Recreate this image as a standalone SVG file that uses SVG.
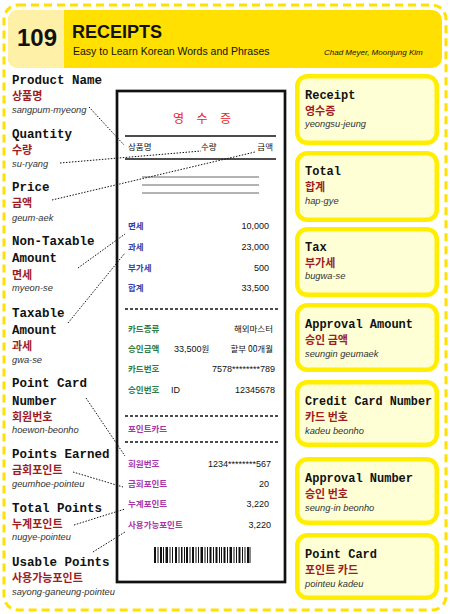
<svg xmlns="http://www.w3.org/2000/svg" width="450" height="614" viewBox="0 0 450 614">
<style>
.en{font-family:"Liberation Mono","Courier New",monospace;font-weight:bold;font-size:12.5px;fill:#111}
.enr{font-family:"Liberation Mono","Courier New",monospace;font-weight:bold;font-size:12px;fill:#111}
.ko{font-family:"Noto Sans CJK KR",sans-serif;font-weight:bold;font-size:11px;fill:#9E1C24}
.ro{font-family:"Liberation Sans",Arial,sans-serif;font-style:italic;font-size:9.3px;fill:#333}
.rk{font-family:"Noto Sans CJK KR",sans-serif;font-size:8.5px}
.rn{font-family:"Liberation Sans",Arial,sans-serif;font-size:9px;fill:#111}
.blue{fill:#3B3BA3;font-weight:bold}.green{fill:#2E7D46;font-weight:bold}.purple{fill:#A934A9;font-weight:bold}.blk{fill:#111}
.box{fill:#FFFFD6;stroke:#FFEE00;stroke-width:4.5}
.dash{stroke:#111;stroke-width:1.5;stroke-dasharray:3 2;fill:none}
.con line{stroke:#111;stroke-width:1;stroke-dasharray:1.5 1.5}
</style>
<rect x="0" y="0" width="450" height="614" fill="#fff"/>
<rect x="4" y="5" width="442" height="605" rx="14" fill="none" stroke="#FFE000" stroke-width="3" stroke-dasharray="8 5"/>
<g id="header">
<rect x="8" y="10" width="434" height="58" rx="10" fill="#FFE000"/>
<path d="M18 10 H64 V68 H18 A10 10 0 0 1 8 58 V20 A10 10 0 0 1 18 10 Z" fill="#FFF0A8"/>
<text x="37" y="46" text-anchor="middle" font-family="Liberation Sans,Arial,sans-serif" font-weight="bold" font-size="24" fill="#111">109</text>
<text x="72" y="38" font-family="Liberation Sans,Arial,sans-serif" font-weight="bold" font-size="18" fill="#111">RECEIPTS</text>
<text x="73" y="55" font-family="Liberation Sans,Arial,sans-serif" font-size="10.5" fill="#111">Easy to Learn Korean Words and Phrases</text>
<text x="324" y="55" font-family="Liberation Sans,Arial,sans-serif" font-style="italic" font-size="8" fill="#111">Chad Meyer,  Moonjung Kim</text>
</g>
<g id="left-labels">
<g id="lbl-product"><text class="en" x="12" y="84">Product Name</text><text class="ko" x="12" y="100">상품명</text><text class="ro" x="12" y="113">sangpum-myeong</text></g>
<g id="lbl-quantity"><text class="en" x="12" y="138">Quantity</text><text class="ko" x="12" y="154">수량</text><text class="ro" x="12" y="166.5">su-ryang</text></g>
<g id="lbl-price"><text class="en" x="12" y="191">Price</text><text class="ko" x="12" y="207">금액</text><text class="ro" x="12" y="221">geum-aek</text></g>
<g id="lbl-nontax"><text class="en" x="12" y="245">Non-Taxable</text><text class="en" x="12" y="262">Amount</text><text class="ko" x="12" y="279">면세</text><text class="ro" x="12" y="291">myeon-se</text></g>
<g id="lbl-tax"><text class="en" x="12" y="317">Taxable</text><text class="en" x="12" y="334">Amount</text><text class="ko" x="12" y="350">과세</text><text class="ro" x="12" y="363">gwa-se</text></g>
<g id="lbl-pointcard"><text class="en" x="12" y="387">Point Card</text><text class="en" x="12" y="405">Number</text><text class="ko" x="12" y="421">회원번호</text><text class="ro" x="12" y="433">hoewon-beonho</text></g>
<g id="lbl-earned"><text class="en" x="12" y="458">Points Earned</text><text class="ko" x="12" y="474">금회포인트</text><text class="ro" x="12" y="487">geumhoe-pointeu</text></g>
<g id="lbl-total"><text class="en" x="12" y="512">Total Points</text><text class="ko" x="12" y="528">누계포인트</text><text class="ro" x="12" y="540">nugye-pointeu</text></g>
<g id="lbl-usable"><text class="en" x="12" y="566">Usable Points</text><text class="ko" x="12" y="582">사용가능포인트</text><text class="ro" x="12" y="595">sayong-ganeung-pointeu</text></g>
</g>
<g id="receipt">
<rect x="117" y="91" width="168" height="491" fill="#fff" stroke="#111" stroke-width="2.7"/>
<text x="173" y="123" textLength="58" font-family="Noto Sans CJK KR,sans-serif" font-size="12" fill="#E8242A">영 수 증</text>
<line x1="125" y1="136" x2="276" y2="136" stroke="#111" stroke-width="1.4"/>
<text class="rk blk" x="128" y="150">상품명</text>
<text class="rk blk" x="201" y="150">수량</text>
<text class="rk blk" x="273" y="150" text-anchor="end">금액</text>
<line x1="125" y1="159" x2="276" y2="159" stroke="#111" stroke-width="1.4"/>
<g stroke="#666" stroke-width="1"><line x1="142" y1="177" x2="259" y2="177"/><line x1="142" y1="185" x2="259" y2="185"/><line x1="142" y1="193" x2="259" y2="193"/></g>
<text class="rk blue" x="128" y="229">면세</text><text class="rn" x="269" y="229" text-anchor="end">10,000</text>
<text class="rk blue" x="128" y="250">과세</text><text class="rn" x="269" y="250" text-anchor="end">23,000</text>
<text class="rk blue" x="128" y="271">부가세</text><text class="rn" x="269" y="271" text-anchor="end">500</text>
<text class="rk blue" x="128" y="291">합계</text><text class="rn" x="269" y="291" text-anchor="end">33,500</text>
<line class="dash" x1="125" y1="309" x2="278" y2="309"/>
<text class="rk green" x="128" y="332">카드종류</text><text class="rk blk" x="273" y="332" text-anchor="end">해외마스터</text>
<text class="rk green" x="128" y="352">승인금액</text><text class="rn" x="174" y="352">33,500<tspan class="rk">원</tspan></text><text class="rk blk" x="273" y="352" text-anchor="end">할부 00개월</text>
<text class="rk green" x="128" y="372">카드번호</text><text class="rn" x="275" y="372" text-anchor="end">7578********789</text>
<text class="rk green" x="128" y="393">승인번호</text><text class="rn" x="171" y="393">ID</text><text class="rn" x="275" y="393" text-anchor="end">12345678</text>
<line class="dash" x1="125" y1="416" x2="278" y2="416"/>
<text class="rk purple" x="128" y="432">포인트카드</text>
<line class="dash" x1="125" y1="442" x2="278" y2="442"/>
<text class="rk purple" x="128" y="467">회원번호</text><text class="rn" x="271" y="467" text-anchor="end">1234********567</text>
<text class="rk purple" x="128" y="487">금회포인트</text><text class="rn" x="269" y="487" text-anchor="end">20</text>
<text class="rk purple" x="128" y="507">누계포인트</text><text class="rn" x="269" y="507" text-anchor="end">3,220</text>
<text class="rk purple" x="128" y="528">사용가능포인트</text><text class="rn" x="271" y="528" text-anchor="end">3,220</text>
<g id="barcode" fill="#111">
<rect x="154" y="547" width="2" height="16"/><rect x="157.5" y="547" width="1" height="16"/><rect x="160" y="547" width="2" height="16"/><rect x="163" y="547" width="1" height="16"/><rect x="165.5" y="547" width="2.5" height="16"/><rect x="169.5" y="547" width="1" height="16"/><rect x="172" y="547" width="1" height="16"/><rect x="175" y="547" width="2" height="16"/><rect x="178.5" y="547" width="1" height="16"/><rect x="181" y="547" width="1.5" height="16"/><rect x="184" y="547" width="1" height="16"/><rect x="186" y="547" width="2" height="16"/><rect x="189.5" y="547" width="1" height="16"/><rect x="192" y="547" width="2" height="16"/><rect x="195.5" y="547" width="1" height="16"/><rect x="198" y="547" width="1" height="16"/><rect x="200.5" y="547" width="2.5" height="16"/><rect x="204.5" y="547" width="1" height="16"/><rect x="207" y="547" width="1" height="16"/><rect x="209.5" y="547" width="2" height="16"/><rect x="213" y="547" width="1" height="16"/><rect x="215.5" y="547" width="2" height="16"/><rect x="219" y="547" width="1" height="16"/><rect x="221" y="547" width="1" height="16"/><rect x="223.5" y="547" width="2" height="16"/><rect x="227" y="547" width="1" height="16"/><rect x="229.5" y="547" width="2.5" height="16"/><rect x="233.5" y="547" width="1" height="16"/><rect x="236" y="547" width="1" height="16"/><rect x="238.5" y="547" width="2" height="16"/><rect x="242" y="547" width="1" height="16"/><rect x="244.5" y="547" width="1" height="16"/><rect x="247" y="547" width="2" height="16"/><rect x="249.5" y="547" width="1" height="16"/>
</g>
</g>
<g id="right-boxes">
<g id="box-receipt"><rect class="box" x="297.25" y="76.25" width="139.5" height="66.5" rx="10"/><text class="enr" x="305" y="99">Receipt</text><text class="ko" x="305" y="115">영수증</text><text class="ro" x="305" y="127">yeongsu-jeung</text></g>
<g id="box-total"><rect class="box" x="297.25" y="153.25" width="139.5" height="66.5" rx="10"/><text class="enr" x="305" y="175">Total</text><text class="ko" x="305" y="191">합계</text><text class="ro" x="305" y="203.5">hap-gye</text></g>
<g id="box-tax"><rect class="box" x="297.25" y="229.25" width="139.5" height="65.5" rx="10"/><text class="enr" x="305" y="251">Tax</text><text class="ko" x="305" y="267">부가세</text><text class="ro" x="305" y="279">bugwa-se</text></g>
<g id="box-approval-amount"><rect class="box" x="297.25" y="305.25" width="139.5" height="64.5" rx="10"/><text class="enr" x="305" y="328">Approval Amount</text><text class="ko" x="305" y="344">승인 금액</text><text class="ro" x="305" y="357">seungin geumaek</text></g>
<g id="box-card-number"><rect class="box" x="297.25" y="382.25" width="139.5" height="62.5" rx="10"/><text class="enr" x="305" y="405" textLength="127" lengthAdjust="spacingAndGlyphs">Credit Card Number</text><text class="ko" x="305" y="421">카드 번호</text><text class="ro" x="305" y="434">kadeu beonho</text></g>
<g id="box-approval-number"><rect class="box" x="297.25" y="459.25" width="139.5" height="63.5" rx="10"/><text class="enr" x="305" y="482" textLength="108" lengthAdjust="spacingAndGlyphs">Approval Number</text><text class="ko" x="305" y="498">승인 번호</text><text class="ro" x="305" y="510.5">seung-in beonho</text></g>
<g id="box-point-card"><rect class="box" x="297.25" y="535.25" width="139.5" height="62.5" rx="10"/><text class="enr" x="305" y="558" textLength="72" lengthAdjust="spacingAndGlyphs">Point Card</text><text class="ko" x="305" y="574">포인트 카드</text><text class="ro" x="305" y="587">pointeu kadeu</text></g>
</g>
<g id="connectors" class="con">
<line x1="89" y1="107" x2="124" y2="145"/>
<line x1="60" y1="163" x2="201" y2="151"/>
<line x1="52" y1="200" x2="255" y2="152"/>
<line x1="78" y1="268" x2="125" y2="234"/>
<line x1="68" y1="323" x2="125" y2="253"/>
<line x1="86" y1="398" x2="125" y2="456"/>
<line x1="73" y1="472" x2="123" y2="487"/>
<line x1="74" y1="525" x2="125" y2="509"/>
<line x1="93" y1="552" x2="125" y2="532"/>
</g>
</svg>
